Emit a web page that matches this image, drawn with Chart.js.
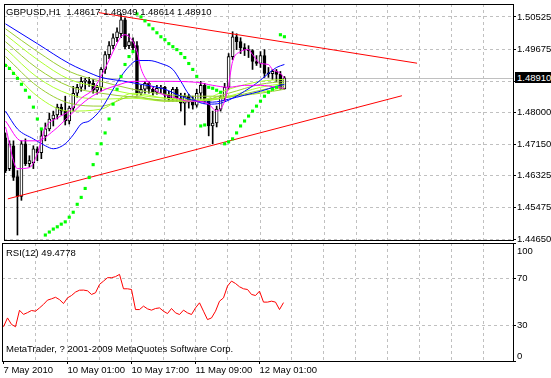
<!DOCTYPE html>
<html>
<head>
<meta charset="utf-8">
<script src="https://cdn.jsdelivr.net/npm/chart.js@4.4.0/dist/chart.umd.min.js"></script>
<style>
  html, body { margin: 0; padding: 0; background: #fff; }
  #wrap { position: relative; width: 551px; height: 378px; overflow: hidden; }
  canvas { position: absolute; left: 0; }
  .txt { position: absolute; font: 9.5px "Liberation Sans", Arial, sans-serif; line-height: 11px; white-space: pre; color: #000; }
  #lastPrice { background: #000; color: #fff; left: 515px; width: 40px; padding-left: 2px; height: 11px; }
</style>
</head>
<body>
<div id="wrap">
  <canvas id="main" width="551" height="246" style="top:0"></canvas>
  <canvas id="rsi" width="551" height="136" style="top:242px"></canvas>
  <div class="txt" id="title" style="left:6px;top:6px"></div>
  <div class="txt" id="lastPrice" style="top:72px"></div>
  <div class="txt" id="rsiTitle" style="left:6px;top:247px"></div>
  <div class="txt" id="rsiMax" style="left:517px;top:245px"></div>
  <div class="txt" id="rsiMin" style="left:517px;top:350px"></div>
  <div class="txt" style="left:6px;top:343px">MetaTrader, ? 2001-2009 MetaQuotes Software Corp.</div>
</div>
<script>
const symbol = 'GBPUSD';
const period = 'H1';

// hourly candles, 7 May 2010 -> 12 May 2010
const open = [
  1.47325, 1.46512, 1.47116, 1.46302, 1.45778, 1.47168, 1.46643, 1.46670, 1.47037, 1.46932,
  1.47378, 1.47561, 1.47824, 1.47929, 1.48138, 1.48033, 1.47771, 1.48112, 1.48506, 1.48663,
  1.48820, 1.48830, 1.48768, 1.48585, 1.48663, 1.49135, 1.49528, 1.49764, 1.49974, 1.50079,
  1.50446, 1.49764, 1.49869, 1.49764, 1.48506, 1.48611, 1.48768, 1.48611, 1.48532, 1.48637,
  1.48663, 1.48453, 1.48348, 1.48611, 1.48374, 1.48243, 1.48427, 1.48270, 1.48191, 1.48506,
  1.48715, 1.48296, 1.47640, 1.47719, 1.48086, 1.48401, 1.48663, 1.49476, 1.50000, 1.49869,
  1.49712, 1.49659, 1.49633, 1.49345, 1.49292, 1.49502, 1.49030, 1.49020, 1.49082, 1.49004,
  1.48617
];
const high = [
  1.47456, 1.47247, 1.47247, 1.46460, 1.47247, 1.47299, 1.46853, 1.47116, 1.47089, 1.47561,
  1.47719, 1.47981, 1.48033, 1.48217, 1.48217, 1.48427, 1.48165, 1.48689, 1.48742, 1.48925,
  1.48899, 1.48925, 1.48873, 1.48715, 1.49187, 1.49607, 1.49869, 1.50079, 1.50237, 1.50604,
  1.50500, 1.50079, 1.49974, 1.49869, 1.48715, 1.48820, 1.48820, 1.48663, 1.48715, 1.48715,
  1.48689, 1.48558, 1.48663, 1.48663, 1.48506, 1.48506, 1.48479, 1.48427, 1.48611, 1.48820,
  1.48768, 1.48348, 1.48033, 1.48165, 1.48453, 1.48768, 1.49555, 1.50132, 1.50079, 1.49974,
  1.49817, 1.49764, 1.49659, 1.49502, 1.49607, 1.49659, 1.49187, 1.49135, 1.49135, 1.49082,
  1.48949
];
const low = [
  1.46407, 1.46460, 1.46198, 1.44755, 1.45673, 1.46591, 1.46565, 1.46512, 1.46722, 1.46775,
  1.47247, 1.47509, 1.47640, 1.47824, 1.47929, 1.47666, 1.47693, 1.48033, 1.48401, 1.48558,
  1.48611, 1.48689, 1.48506, 1.48479, 1.48558, 1.49030, 1.49423, 1.49686, 1.49869, 1.49974,
  1.49686, 1.49686, 1.49659, 1.48453, 1.48453, 1.48506, 1.48506, 1.48453, 1.48479, 1.48506,
  1.48348, 1.48296, 1.48296, 1.48296, 1.48033, 1.47666, 1.48112, 1.48086, 1.48138, 1.48348,
  1.48243, 1.47378, 1.47168, 1.47614, 1.48033, 1.48296, 1.48611, 1.49397, 1.49659, 1.49555,
  1.49502, 1.49450, 1.49135, 1.49240, 1.49187, 1.48925, 1.48925, 1.48873, 1.48820, 1.48611,
  1.48614
];
const close = [
  1.46460, 1.47168, 1.46276, 1.45778, 1.47168, 1.46643, 1.46722, 1.47037, 1.46932, 1.47378,
  1.47561, 1.47824, 1.47929, 1.48138, 1.48033, 1.47771, 1.48112, 1.48506, 1.48663, 1.48820,
  1.48830, 1.48768, 1.48585, 1.48663, 1.49135, 1.49528, 1.49764, 1.49974, 1.50132, 1.50446,
  1.49738, 1.49869, 1.49712, 1.48506, 1.48611, 1.48768, 1.48611, 1.48532, 1.48637, 1.48663,
  1.48453, 1.48348, 1.48611, 1.48374, 1.48243, 1.48427, 1.48270, 1.48191, 1.48506, 1.48715,
  1.48296, 1.47640, 1.47719, 1.48086, 1.48401, 1.48663, 1.49476, 1.50000, 1.49869, 1.49712,
  1.49659, 1.49633, 1.49345, 1.49292, 1.49502, 1.49030, 1.49020, 1.49082, 1.49004, 1.48617,
  1.48910
];

// parabolic SAR, one dot per bar
const sar = [
  1.49240, 1.49161, 1.49030, 1.48899, 1.48742, 1.48585, 1.48401, 1.48138, 1.47824, 1.47561,
  1.44755, 1.44834, 1.44913, 1.44973, 1.45043, 1.45104, 1.45227, 1.45358, 1.45568, 1.45751,
  1.45987, 1.46276, 1.46617, 1.46906, 1.47168, 1.47456, 1.47824, 1.48217, 1.48611, 1.48951,
  1.49266, 1.49476, 1.49607, 1.50604, 1.50525, 1.50420, 1.50315, 1.50210, 1.50105, 1.50000,
  1.49922, 1.49817, 1.49738, 1.49659, 1.49555, 1.49450, 1.49292, 1.49135, 1.48951, 1.47640,
  1.47666, 1.48663, 1.48637, 1.48585, 1.48532, 1.47168, 1.47220, 1.47299, 1.47456, 1.47640,
  1.47771, 1.47902, 1.48033, 1.48165, 1.48296, 1.48427, 1.48532, 1.48611, 1.48663, 1.50053,
  1.50000
];

// moving averages, read as [bar, price]
const blueSlow = [[0, 1.50341], [8, 1.49817], [16, 1.49292], [22, 1.49004], [24, 1.48925], [30, 1.48820],
  [34, 1.48742], [40, 1.48611], [44, 1.48427], [48, 1.48296], [52, 1.48270], [56, 1.48348],
  [60, 1.48453], [64, 1.48558], [68, 1.48689], [70, 1.48742]];
const blueFast = [[0, 1.48033], [3, 1.47561], [7, 1.47299], [10, 1.47116], [12, 1.47037], [15, 1.47168],
  [17, 1.47404], [19, 1.47693], [21, 1.47771], [24, 1.48086], [27, 1.48611], [29, 1.48951],
  [31, 1.49214], [33, 1.49371], [36, 1.49371], [39, 1.49292], [42, 1.49135], [44, 1.48820],
  [46, 1.48479], [48, 1.48296], [51, 1.48217], [54, 1.48243], [57, 1.48374], [60, 1.48558],
  [63, 1.48768], [66, 1.49030], [68, 1.49187], [70, 1.49266]];
const magentaFast = [[0, 1.47614], [3, 1.46512], [6, 1.46538], [8, 1.46906], [10, 1.47587], [13, 1.47850],
  [16, 1.48033], [19, 1.48374], [22, 1.48611], [25, 1.49161], [27, 1.49607], [29, 1.50000],
  [30, 1.50053], [32, 1.49869], [33, 1.49607], [34, 1.49161], [36, 1.48768], [38, 1.48558],
  [43, 1.48374], [46, 1.48296], [48, 1.48296], [51, 1.48217], [53, 1.48033], [55, 1.48296],
  [56, 1.48742], [57, 1.49345], [59, 1.49607], [61, 1.49659], [62, 1.49528], [64, 1.49292],
  [66, 1.49266], [67, 1.49135], [69, 1.49030], [70, 1.48899]];
const magentaSlow = [[0, 1.47771], [4, 1.47247], [8, 1.47247], [12, 1.47509], [16, 1.47902], [20, 1.48296],
  [24, 1.48558], [28, 1.48715], [32, 1.48820], [40, 1.48820], [48, 1.48794], [52, 1.48715],
  [56, 1.48663], [60, 1.48715], [64, 1.48715], [68, 1.48663], [70, 1.48637]];

// green ribbon, sampled every 8 bars
const ribbonBars = [0, 8, 16, 24, 32, 40, 48, 56, 64, 70];
const ribbon = [
  [1.49292, 1.48427, 1.48033, 1.48086, 1.48506, 1.48374, 1.48296, 1.48611, 1.48820, 1.48873],
  [1.49476, 1.48689, 1.48243, 1.48165, 1.48427, 1.48296, 1.48296, 1.48506, 1.48742, 1.48820],
  [1.49686, 1.48925, 1.48479, 1.48348, 1.48374, 1.48296, 1.48296, 1.48427, 1.48663, 1.48768],
  [1.49869, 1.49161, 1.48689, 1.48506, 1.48401, 1.48322, 1.48296, 1.48401, 1.48585, 1.48715],
  [1.50053, 1.49397, 1.48873, 1.48663, 1.48479, 1.48374, 1.48348, 1.48401, 1.48532, 1.48663],
  [1.50210, 1.49607, 1.49082, 1.48820, 1.48611, 1.48479, 1.48427, 1.48427, 1.48506, 1.48611]
];

// trend lines [bar, price]
const upperTrend = [[23.4, 1.50638], [103.3, 1.49300]];
const lowerTrend = [[0.6, 1.45712], [99.5, 1.48440]];

const rsi = [
  29, 36.5, 31, 29, 43, 39.5, 41, 42.8, 42.2, 45,
  48, 51.6, 52.7, 54, 52, 48.7, 53.5, 55.5, 58.4, 60,
  60.1, 59.5, 56.4, 57.8, 64.9, 67.7, 70.6, 70.6, 71.5, 73.4,
  61.2, 61.2, 60.6, 43.6, 43.6, 46.5, 44.2, 43.1, 44.5, 45,
  42.2, 40.2, 44.5, 40.8, 39.4, 43.1, 40.8, 39.4, 45, 49.3,
  42.2, 35.1, 36.5, 42.2, 50.7, 53.5, 63.5, 67.7, 65.7, 62.9,
  61.2, 60.6, 56.4, 55.5, 59.2, 49.9, 49.9, 50.7, 49.9, 43.6,
  49.4778
];
const rsiLevels = [30, 70];

const priceTicks = [1.50525, 1.49675, 1.48825, 1.48000, 1.47150, 1.46325, 1.45475, 1.44650];
const hiddenTick = 1.48825;
const gridBars = [8, 16, 24, 32, 40, 48, 56, 64, 72, 80, 88, 96, 104, 112, 120];
const timeLabelBars = [0, 16, 32, 48, 64];
const timeLabels = ['7 May 2010', '10 May 01:00', '10 May 17:00', '11 May 09:00', '12 May 01:00'];

const xMin = -0.375, xMax = 127.375;
const priceMin = 1.446237, priceMax = 1.508660;

const last = close.length - 1;
document.getElementById('title').textContent =
  `${symbol},${period}  ${open[last].toFixed(5)} ${high[last].toFixed(5)} ${low[last].toFixed(5)} ${close[last].toFixed(5)}`;
document.getElementById('lastPrice').textContent = close[last].toFixed(5);
document.getElementById('rsiTitle').textContent = `RSI(12) ${rsi[last].toFixed(4)}`;
document.getElementById('rsiMax').textContent = '100';
document.getElementById('rsiMin').textContent = '0';

const GRID = '#c0c0c0';
const bars = close.map((_, i) => i);
const pts = pairs => pairs.map(([x, y]) => ({ x, y }));

// fixed axis sizes, no extra room for the edge labels
const fixY = s => { s.width = 38; s.paddingTop = 0; s.paddingBottom = 0; };
const fixX = h => s => { s.height = h; s.paddingLeft = 0; s.paddingRight = 0; };

const frame = {
  id: 'frame',
  afterDraw(chart) {
    const { ctx, chartArea: a } = chart;
    ctx.save();
    ctx.strokeStyle = '#000';
    ctx.lineWidth = 1;
    ctx.strokeRect(a.left + 0.5, a.top + 0.5, a.right - a.left, a.bottom - a.top);
    ctx.restore();
  }
};

const priceLine = {
  id: 'priceLine',
  beforeDatasetsDraw(chart) {
    const { ctx, chartArea: a } = chart;
    const y = Math.round(chart.scales.y.getPixelForValue(close[last])) + 0.5;
    ctx.save();
    ctx.strokeStyle = GRID;
    ctx.lineWidth = 1;
    ctx.beginPath();
    ctx.moveTo(a.left, y);
    ctx.lineTo(a.right, y);
    ctx.stroke();
    ctx.restore();
  }
};

const lineDs = (data, color, order) => ({
  type: 'line', data, borderColor: color, borderWidth: 1, pointRadius: 0,
  cubicInterpolationMode: 'monotone', order
});

const ribbonColors = ['#adff2f', '#9acd32', '#adff2f', '#9acd32', '#adff2f', '#9acd32'];

function draw() {
  Chart.defaults.font.family = "'Liberation Sans', Arial, sans-serif";
  Chart.defaults.font.size = 9.5;
  Chart.defaults.color = '#000';

  new Chart(document.getElementById('main'), {
    type: 'bar',
    data: {
      datasets: [
        {
          type: 'line', data: sar.map((v, i) => ({ x: i, y: v })), showLine: false,
          pointStyle: 'rect', pointRadius: 2.2, pointBackgroundColor: '#00ff00', pointBorderWidth: 0, order: 0
        },
        { type: 'line', data: pts(upperTrend), borderColor: '#ff0000', borderWidth: 1, pointRadius: 0, order: 1 },
        { type: 'line', data: pts(lowerTrend), borderColor: '#ff0000', borderWidth: 1, pointRadius: 0, order: 1 },
        lineDs(pts(magentaFast), '#ff00ff', 2),
        lineDs(pts(magentaSlow), '#ff00ff', 2),
        lineDs(pts(blueFast), '#0000ff', 2),
        lineDs(pts(blueSlow), '#0000ff', 2),
        ...ribbon.map((vals, k) => lineDs(vals.map((v, j) => ({ x: ribbonBars[j], y: v })), ribbonColors[k], 3)),
        {
          type: 'bar', data: bars.map(i => ({ x: i, y: [open[i], close[i]] })),
          backgroundColor: bars.map(i => close[i] >= open[i] ? '#ffffff' : '#000000'),
          borderColor: '#000', borderWidth: 1, borderSkipped: false, barThickness: 3,
          grouped: false, minBarLength: 1, order: 5
        },
        {
          type: 'bar', data: bars.map(i => ({ x: i, y: [low[i], high[i]] })),
          backgroundColor: '#000', barThickness: 1, grouped: false, order: 6
        }
      ]
    },
    options: {
      responsive: false, animation: false, events: [],
      layout: { padding: { left: 2, top: 2, bottom: 6, right: 0 } },
      plugins: { legend: { display: false }, tooltip: { enabled: false } },
      scales: {
        x: {
          type: 'linear', min: xMin, max: xMax, offset: false,
          afterBuildTicks: s => { s.ticks = gridBars.map(v => ({ value: v })); },
          afterFit: fixX(0),
          ticks: { display: false },
          grid: { color: GRID, offset: false, drawTicks: false },
          border: { display: false, dash: [3, 3] }
        },
        y: {
          position: 'right', min: priceMin, max: priceMax, beginAtZero: false,
          afterBuildTicks: s => { s.ticks = priceTicks.map(v => ({ value: v })); },
          afterFit: fixY,
          ticks: { padding: 1, callback: v => v === hiddenTick ? '' : v.toFixed(5) },
          grid: { color: GRID, tickLength: 3, tickColor: '#000', tickBorderDash: [] },
          border: { display: false, dash: [3, 3] }
        }
      }
    },
    plugins: [priceLine, frame]
  });

  new Chart(document.getElementById('rsi'), {
    type: 'line',
    data: {
      datasets: [{
        data: rsi.map((v, i) => ({ x: i, y: v })), borderColor: '#ff0000', borderWidth: 1,
        pointRadius: 0, tension: 0
      }]
    },
    options: {
      responsive: false, animation: false, events: [],
      layout: { padding: { left: 2, top: 1, bottom: 0, right: 0 } },
      plugins: { legend: { display: false }, tooltip: { enabled: false } },
      scales: {
        x: {
          type: 'linear', min: xMin, max: xMax, offset: false,
          afterBuildTicks: s => { s.ticks = [0, ...gridBars].map(v => ({ value: v })); },
          afterFit: fixX(17),
          ticks: {
            autoSkip: false, maxRotation: 0, minRotation: 0, align: 'start', padding: 1,
            callback: v => { const k = timeLabelBars.indexOf(v); return k >= 0 ? timeLabels[k] : ''; }
          },
          grid: {
            color: c => c.tick && c.tick.value === 0 ? 'rgba(0,0,0,0)' : GRID,
            tickColor: c => c.tick && timeLabelBars.includes(c.tick.value) ? '#000' : 'rgba(0,0,0,0)',
            tickLength: 3, tickBorderDash: []
          },
          border: { display: false, dash: [3, 3] }
        },
        y: {
          position: 'right', min: 0, max: 100,
          afterBuildTicks: s => { s.ticks = [0, 30, 70, 100].map(v => ({ value: v })); },
          afterFit: fixY,
          ticks: { padding: 1, callback: v => rsiLevels.includes(v) ? String(v) : '' },
          grid: {
            color: c => c.tick && rsiLevels.includes(c.tick.value) ? GRID : 'rgba(0,0,0,0)',
            tickLength: 3, tickColor: '#000', tickBorderDash: []
          },
          border: { display: false, dash: [3, 3] }
        }
      }
    },
    plugins: [frame]
  });
}

document.fonts.load('9.5px "Liberation Sans"').then(draw, draw);
</script>
</body>
</html>
